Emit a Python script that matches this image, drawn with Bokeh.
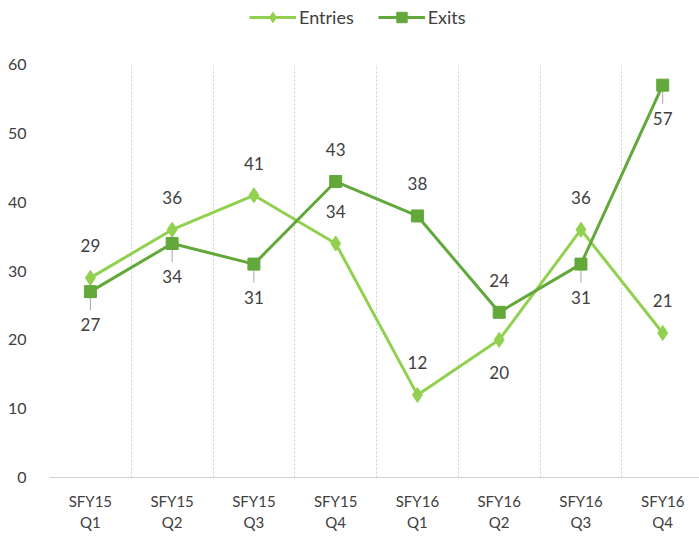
from bokeh.plotting import figure
from bokeh.layouts import column
from bokeh.models import (Range1d, FixedTicker, Legend, LegendItem,
                          ColumnDataSource, LabelSet)
from bokeh.core.properties import value
from bokeh.embed import file_html
from bokeh.resources import INLINE

# ---- data ----
categories = ["SFY15 Q1", "SFY15 Q2", "SFY15 Q3", "SFY15 Q4",
              "SFY16 Q1", "SFY16 Q2", "SFY16 Q3", "SFY16 Q4"]
entries = [29, 36, 41, 34, 12, 20, 36, 21]
exits = [27, 34, 31, 43, 38, 24, 31, 57]
y_ticks = [0, 10, 20, 30, 40, 50, 60]
series_names = ["Entries", "Exits"]

# ---- label placement (style) ----
entries_pos = ["above", "above", "above", "above", "above", "below", "above", "above"]
exits_pos = ["below", "below", "below", "above", "above", "above", "below", "below"]
exits_leader = [True, True, True, False, False, False, True, True]

FONT = "Lato"
TXT = "#404040"
C_ENT = "#92D050"
C_EXT = "#62A83A"
GRID = "#D0D0D0"

x = list(range(len(categories)))

p = figure(width=699, height=496, x_range=Range1d(-0.5, 7.45), y_range=Range1d(0, 60),
           output_backend="svg", toolbar_location=None,
           min_border_left=49, min_border_right=0, min_border_top=24, min_border_bottom=59)
p.outline_line_color = None
p.background_fill_color = "white"

# y axis
p.yaxis.ticker = FixedTicker(ticks=y_ticks)
p.yaxis.axis_line_color = None
p.yaxis.major_tick_line_color = None
p.yaxis.minor_tick_line_color = None
p.yaxis.major_label_standoff = 17
p.yaxis.major_label_text_font = FONT
p.yaxis.major_label_text_font_size = "16px"
p.yaxis.major_label_text_color = TXT

# x axis
p.xaxis.ticker = FixedTicker(ticks=x)
p.xaxis.major_label_overrides = {i: c.replace(" ", "\n") for i, c in zip(x, categories)}
p.xaxis.axis_line_color = GRID
p.xaxis.major_tick_line_color = None
p.xaxis.minor_tick_line_color = None
p.xaxis.major_label_standoff = 8
p.xaxis.major_label_text_font = FONT
p.xaxis.major_label_text_font_size = "15px"
p.xaxis.major_label_text_color = TXT

# grids
p.ygrid.grid_line_color = None
p.xgrid.ticker = FixedTicker(ticks=[i - 0.5 for i in range(len(categories) + 1)])
p.xgrid.grid_line_color = GRID
p.xgrid.grid_line_dash = "2 2"

# leader lines
lx = [xi for xi, f in zip(x, exits_leader) if f]
ly0 = [v for v, f in zip(exits, exits_leader) if f]
ly1 = [v - 2.7 for v, f in zip(exits, exits_leader) if f]
p.segment(x0=lx, y0=ly0, x1=lx, y1=ly1, line_color="#A6A6A6", line_width=1)

# series
p.line(x, entries, line_color=C_ENT, line_width=3)
p.scatter(x, entries, marker="diamond", size=15, color=C_ENT)
p.line(x, exits, line_color=C_EXT, line_width=3)
p.scatter(x, exits, marker="square", size=12, color=C_EXT)

# data labels
def labels(vals, pos):
    src = ColumnDataSource(dict(
        x=x, y=vals, t=[str(v) for v in vals],
        dy=[32 if ps == "above" else -33 for ps in pos]))
    return LabelSet(x="x", y="y", text="t", y_offset="dy", source=src,
                    text_align="center", text_baseline="middle",
                    text_font=value(FONT), text_font_size=value("17px"),
                    text_color=TXT)

p.add_layout(labels(entries, entries_pos))
p.add_layout(labels(exits, exits_pos))

# legend strip on top (series drawn out of view; only the legend shows)
leg = figure(width=699, height=40, x_range=Range1d(0, 1), y_range=Range1d(-1, 0),
             output_backend="svg", toolbar_location=None, min_border=0,
             min_border_left=0, min_border_right=0, min_border_top=0, min_border_bottom=0,
             x_axis_location=None, y_axis_location=None)
leg.outline_line_color = None
leg.grid.grid_line_color = None
el = leg.line(x, entries, line_color=C_ENT, line_width=3)
es = leg.scatter(x, entries, marker="diamond", size=13, color=C_ENT)
xl = leg.line(x, exits, line_color=C_EXT, line_width=3)
xs = leg.scatter(x, exits, marker="square", size=11, color=C_EXT)
legend = Legend(items=[LegendItem(label=series_names[0], renderers=[el, es]),
                       LegendItem(label=series_names[1], renderers=[xl, xs])],
                orientation="horizontal", location=(200, 10),
                glyph_width=47, glyph_height=26, spacing=24, padding=0, margin=0,
                label_text_font=FONT, label_text_font_size="18px",
                label_text_color=TXT, border_line_color=None,
                background_fill_alpha=0, label_standoff=3)
leg.add_layout(legend, "center")

open("out.html", "w").write(file_html(column(leg, p, spacing=0), INLINE))
